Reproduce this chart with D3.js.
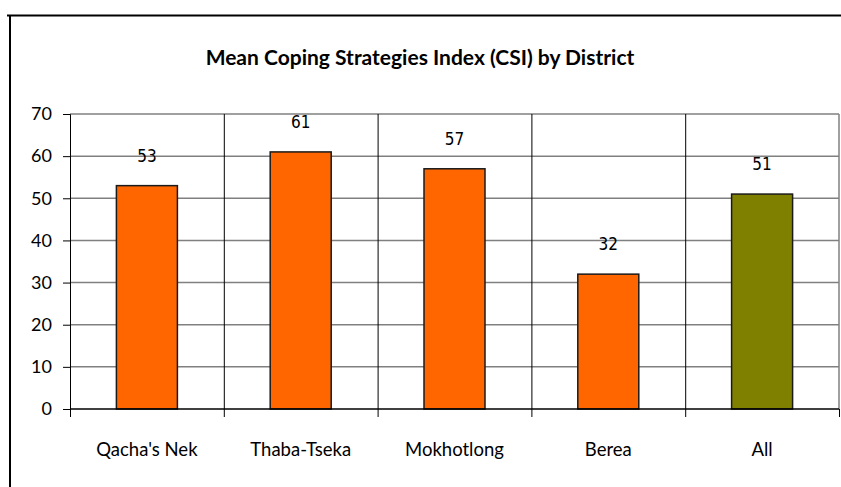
<!DOCTYPE html>
<html>
<head>
<meta charset="utf-8">
<script src="https://cdn.jsdelivr.net/npm/d3@7"></script>
<style>
  body { margin: 0; background: #fff; }
  svg { display: block; }
  .grid line { stroke: #808080; stroke-width: 1.5; }
  .vgrid line { stroke: #000; stroke-width: 1; }
  .bar { stroke: #1a1a1a; stroke-width: 1.5; }
</style>
</head>
<body>
<svg></svg>
<script>
// chart data
var districts = ["Qacha's Nek", "Thaba-Tseka", "Mokhotlong", "Berea", "All"];
var csi = [53, 61, 57, 32, 51];
var yTicks = [0, 10, 20, 30, 40, 50, 60, 70];
var title = "Mean Coping Strategies Index (CSI) by District";

var config = {
  w: 841,
  h: 487,
  left: 70,
  right: 839,
  top: 114,
  bottom: 409,
  barW: 61
};

var svg = d3.select("svg")
  .attr("width", config.w)
  .attr("height", config.h);

// outer frame (top and left edges visible)
svg.append("line")
  .attr("x1", 7).attr("x2", config.w)
  .attr("y1", 15.5).attr("y2", 15.5)
  .attr("stroke", "#000").attr("stroke-width", 2);
svg.append("line")
  .attr("x1", 10).attr("x2", 10)
  .attr("y1", 15).attr("y2", config.h)
  .attr("stroke", "#000").attr("stroke-width", 2);

var x = d3.scaleBand()
  .domain(districts)
  .range([config.left, config.right])
  .padding(0);

var y = d3.scaleLinear()
  .domain([0, 70])
  .range([config.bottom, config.top]);

// horizontal gridlines
svg.append("g")
  .attr("class", "grid")
  .selectAll("line")
  .data(yTicks.filter(function(d) { return d > 0; }))
  .enter()
  .append("line")
    .attr("x1", config.left)
    .attr("x2", config.right)
    .attr("y1", function(d) { return y(d); })
    .attr("y2", function(d) { return y(d); });

// right border of plot area
svg.append("line")
  .attr("x1", config.right).attr("x2", config.right)
  .attr("y1", config.top).attr("y2", config.bottom)
  .attr("stroke", "#808080").attr("stroke-width", 1.5);

// vertical category separators
svg.append("g")
  .attr("class", "vgrid")
  .selectAll("line")
  .data(districts.slice(1))
  .enter()
  .append("line")
    .attr("x1", function(d) { return x(d) + 0.5; })
    .attr("x2", function(d) { return x(d) + 0.5; })
    .attr("y1", config.top)
    .attr("y2", config.bottom);

// bars
svg.append("g")
  .selectAll("rect")
  .data(districts)
  .enter()
  .append("rect")
    .attr("class", "bar")
    .attr("x", function(d) { return x(d) + (x.bandwidth() - config.barW) / 2; })
    .attr("width", config.barW)
    .attr("y", function(d, i) { return y(csi[i]); })
    .attr("height", function(d, i) { return y(0) - y(csi[i]); })
    .style("fill", function(d) { return d == "All" ? "#808000" : "#FF6600"; });

// value labels
svg.append("g")
  .selectAll("text")
  .data(districts)
  .enter()
  .append("text")
    .attr("x", function(d) { return x(d) + x.bandwidth() / 2; })
    .attr("y", function(d, i) { return y(csi[i]) - 24; })
    .attr("text-anchor", "middle")
    .style("font-family", "'DejaVu Sans Condensed', 'DejaVu Sans', sans-serif")
    .style("font-size", "17px")
    .text(function(d, i) { return csi[i]; });

// y axis
var yAxis = d3.axisLeft(y)
  .tickValues(yTicks)
  .tickSize(7)
  .tickPadding(11);

var gy = svg.append("g")
  .attr("transform", "translate(" + config.left + ",0)")
  .call(yAxis);
gy.selectAll("path, line").attr("stroke", "#000");
gy.selectAll("text")
  .style("font-family", "Lato, sans-serif")
  .style("font-size", "18px")
  .style("fill", "#000");

// x axis with ticks at category boundaries
var bounds = districts.map(function(d) { return x(d); }).concat([config.right]);
var gx = svg.append("g")
  .attr("transform", "translate(0," + config.bottom + ")");
gx.append("line")
  .attr("x1", config.left).attr("x2", config.right)
  .attr("stroke", "#000").attr("stroke-width", 1.5);
gx.selectAll("line.tick")
  .data(bounds)
  .enter()
  .append("line")
    .attr("class", "tick")
    .attr("x1", function(d) { return d + 0.5; })
    .attr("x2", function(d) { return d + 0.5; })
    .attr("y1", 0)
    .attr("y2", 8)
    .attr("stroke", "#000");
gx.selectAll("text")
  .data(districts)
  .enter()
  .append("text")
    .attr("x", function(d) { return x(d) + x.bandwidth() / 2; })
    .attr("y", 47)
    .attr("text-anchor", "middle")
    .style("font-family", "Lato, sans-serif")
    .style("font-size", "18.5px")
    .text(function(d) { return d; });

// title
svg.append("text")
  .attr("x", 420)
  .attr("y", 65)
  .attr("text-anchor", "middle")
  .style("font-family", "Lato, sans-serif")
  .style("font-weight", "bold")
  .style("font-size", "21px")
  .text(title);
</script>
</body>
</html>
